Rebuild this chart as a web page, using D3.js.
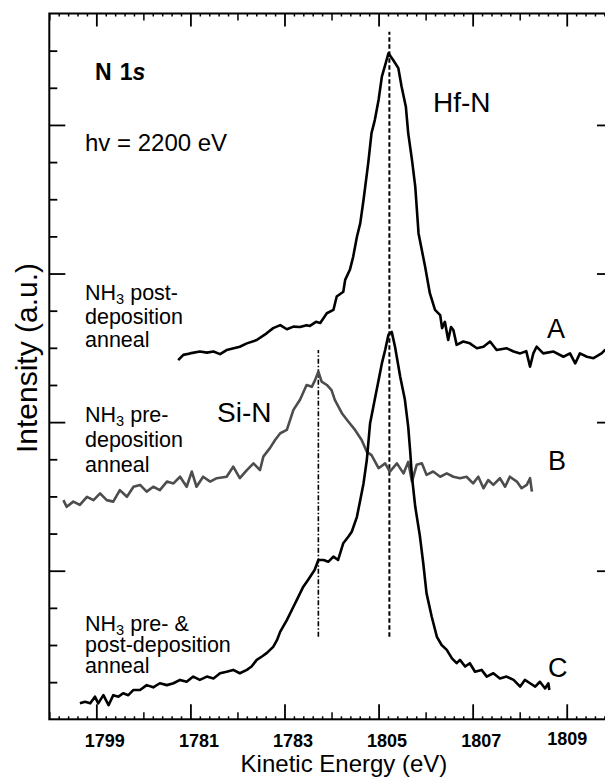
<!DOCTYPE html>
<html><head><meta charset="utf-8">
<script src="https://cdn.jsdelivr.net/npm/d3@7"></script>
<style>
body{margin:0;background:#fff}
svg{display:block}
text{font-family:"Liberation Sans",Arial,Helvetica,sans-serif;fill:#000}
</style>
</head><body>
<svg id="chart" width="605" height="778"></svg>
<script>
// ---------- data (kinetic energy in eV, intensity in a.u.) ----------
const energyA = [1800.74,1800.85,1800.99,1801.20,1801.35,1801.49,1801.63,1801.77,1802.05,1802.20,1802.41,1802.62,1802.76,1802.91,1803.05,1803.19,1803.33,1803.47,1803.54,1803.67,1803.76,1803.90,1804.04,1804.11,1804.25,1804.29,1804.39,1804.46,1804.54,1804.61,1804.68,1804.78,1804.85,1804.92,1805.00,1805.07,1805.14,1805.21,1805.31,1805.42,1805.49,1805.58,1805.63,1805.71,1805.78,1805.85,1805.99,1806.09,1806.20,1806.31,1806.35,1806.41,1806.48,1806.54,1806.59,1806.66,1806.80,1806.94,1807.09,1807.23,1807.37,1807.51,1807.72,1807.87,1808.01,1808.14,1808.22,1808.29,1808.36,1808.50,1808.72,1808.93,1809.07,1809.18,1809.28,1809.43,1809.57,1809.74,1809.81,1809.92];
const intensityA = [9.67,9.81,9.85,9.90,9.87,9.90,9.83,9.94,10.03,10.12,10.21,10.39,10.53,10.61,10.50,10.57,10.56,10.61,10.59,10.70,10.67,10.93,11.02,11.38,11.51,11.83,12.10,12.45,12.99,13.35,13.98,14.97,15.78,16.13,16.67,17.30,17.61,17.93,17.75,17.53,17.03,16.49,15.78,15.06,14.34,13.08,12.18,11.47,11.02,10.88,10.53,10.70,10.21,10.56,10.48,10.08,10.17,10.12,9.99,10.03,10.17,9.94,9.99,9.90,9.85,9.91,9.49,9.85,10.03,9.85,9.90,9.76,9.85,9.58,9.85,9.76,9.72,9.85,9.94,9.89];

const energyB = [1798.30,1798.37,1798.51,1798.65,1798.80,1798.94,1799.08,1799.22,1799.36,1799.50,1799.65,1799.79,1799.93,1800.07,1800.21,1800.35,1800.50,1800.64,1800.78,1800.92,1801.03,1801.13,1801.27,1801.42,1801.56,1801.77,1801.91,1802.05,1802.20,1802.34,1802.48,1802.55,1802.69,1802.80,1802.91,1803.05,1803.19,1803.33,1803.47,1803.58,1803.65,1803.72,1803.79,1803.90,1804.00,1804.07,1804.22,1804.36,1804.50,1804.64,1804.75,1804.85,1805.00,1805.14,1805.24,1805.39,1805.53,1805.63,1805.71,1805.81,1805.92,1806.02,1806.16,1806.31,1806.45,1806.59,1806.73,1806.87,1807.01,1807.12,1807.23,1807.33,1807.44,1807.58,1807.69,1807.79,1807.94,1808.04,1808.15,1808.22,1808.26];
const intensityB = [5.90,5.72,5.86,5.77,5.99,5.90,6.08,5.90,5.86,6.17,5.99,6.26,6.31,6.13,6.26,6.17,6.40,6.35,6.53,6.26,6.67,6.26,6.53,6.40,6.49,6.53,6.80,6.49,6.71,6.89,6.71,7.07,7.30,7.52,7.70,7.79,8.33,8.60,9.00,8.95,9.13,9.36,9.09,9.00,8.86,8.60,8.24,8.01,7.79,7.52,7.20,7.11,6.76,6.89,6.67,6.89,6.62,6.93,6.40,6.85,6.89,6.58,6.67,6.53,6.62,6.53,6.49,6.53,6.35,6.53,6.22,6.44,6.31,6.49,6.26,6.53,6.40,6.22,6.31,6.49,6.13];

const energyC = [1798.65,1798.76,1798.87,1798.97,1799.04,1799.15,1799.26,1799.36,1799.47,1799.57,1799.68,1799.79,1799.93,1800.07,1800.21,1800.35,1800.50,1800.64,1800.78,1800.92,1801.06,1801.20,1801.35,1801.49,1801.63,1801.77,1801.91,1802.05,1802.20,1802.30,1802.41,1802.52,1802.62,1802.76,1802.84,1802.91,1803.05,1803.19,1803.26,1803.40,1803.50,1803.64,1803.72,1803.83,1803.93,1804.04,1804.14,1804.25,1804.36,1804.43,1804.54,1804.61,1804.68,1804.75,1804.82,1804.89,1805.00,1805.07,1805.14,1805.21,1805.28,1805.35,1805.46,1805.56,1805.63,1805.67,1805.71,1805.78,1805.88,1805.95,1806.02,1806.13,1806.24,1806.34,1806.45,1806.56,1806.66,1806.73,1806.84,1806.94,1807.05,1807.19,1807.30,1807.44,1807.58,1807.72,1807.87,1808.01,1808.11,1808.22,1808.33,1808.43,1808.54,1808.61,1808.63];
const intensityC = [0.43,0.47,0.43,0.61,0.43,0.65,0.38,0.65,0.61,0.70,0.65,0.79,0.79,0.92,0.86,0.97,0.92,0.97,1.06,1.01,1.15,1.06,1.15,1.10,1.24,1.28,1.33,1.24,1.33,1.42,1.60,1.69,1.78,1.95,2.13,2.36,2.67,3.03,3.21,3.57,3.75,4.02,4.29,4.29,4.24,4.38,4.29,4.74,4.92,5.05,5.45,5.90,6.35,6.98,7.97,8.42,9.13,9.58,9.94,10.35,10.43,10.03,9.22,8.60,7.88,7.25,6.53,5.72,4.92,4.20,3.39,2.76,2.22,2.00,1.87,1.64,1.51,1.60,1.42,1.51,1.28,1.33,1.15,1.24,1.10,1.15,1.06,0.88,1.06,0.97,0.88,1.01,0.83,0.97,0.79];

// reference lines: [energy, intensity from, intensity to]
const hfnLine = [1805.23, 2.22, 18.51];
const sinLine = [1803.72, 2.22, 9.94];

const xTickValues = [1799, 1801, 1803, 1805, 1807, 1809];
const xTickLabels = ["1799", "1781", "1783", "1805", "1807", "1809"];
const yLongTicks = [4, 8, 12, 16];

// ---------- drawing ----------
const svg = d3.select("#chart");
const L = 49.3, R = 610, T = 13.5, B = 719.3;
const x = d3.scaleLinear().domain([1798.0, 1809.92]).range([L, R]);
const y = d3.scaleLinear().domain([0, 19]).range([B, T]);

const near = (v, t) => Math.abs(v - t) < 1e-6;
const allX = d3.range(0, 60).map(i => +(1798 + i * 0.2).toFixed(1));
const majorX = allX.filter(v => xTickValues.some(t => near(v, t)));
const mediumX = allX.filter(v => near(v, Math.round(v)) && !majorX.includes(v));
const minorX = allX.filter(v => !near(v, Math.round(v)));

function styleAxis(g, sw) {
  g.select(".domain").remove();
  g.selectAll(".tick line").attr("stroke", "#000").attr("stroke-width", sw);
}

// bottom axis
const gB = svg.append("g").attr("transform", `translate(0,${B})`);
gB.append("g").call(d3.axisBottom(x).tickValues(minorX).tickSize(-3).tickFormat("")).call(styleAxis, 1.5);
gB.append("g").call(d3.axisBottom(x).tickValues(mediumX).tickSize(-7).tickFormat("")).call(styleAxis, 1.5);
const gBm = gB.append("g").call(d3.axisBottom(x).tickValues(xTickValues).tickSize(-15)
  .tickFormat((d, i) => xTickLabels[i])).call(styleAxis, 1.8);
gBm.selectAll(".tick text")
  .attr("y", (d, i) => i === xTickLabels.length - 1 ? 26 : 28)
  .attr("dy", 0)
  .attr("dx", (d, i) => i === xTickLabels.length - 1 ? 0 : 8)
  .style("font-family", '"Liberation Sans",Arial,sans-serif')
  .style("font-size", "18px").style("font-weight", "bold").attr("fill", "#000");

// top axis
const gT = svg.append("g").attr("transform", `translate(0,${T})`);
gT.append("g").call(d3.axisTop(x).tickValues(minorX).tickSize(-3).tickFormat("")).call(styleAxis, 1.5);
gT.append("g").call(d3.axisTop(x).tickValues(mediumX).tickSize(-7).tickFormat("")).call(styleAxis, 1.5);
gT.append("g").call(d3.axisTop(x).tickValues(xTickValues).tickSize(-13).tickFormat("")).call(styleAxis, 1.8);

// left axis
const yAll = d3.range(1, 19);
const gL = svg.append("g").attr("transform", `translate(${L},0)`);
gL.append("g").call(d3.axisLeft(y).tickValues(yAll.filter(v => !yLongTicks.includes(v))).tickSize(-8).tickFormat("")).call(styleAxis, 1.8);
gL.append("g").call(d3.axisLeft(y).tickValues(yLongTicks).tickSize(-16).tickFormat("")).call(styleAxis, 1.8);

// right axis
const gR = svg.append("g").attr("transform", `translate(${R},0)`);
gR.append("g").call(d3.axisRight(y).tickValues(yLongTicks).tickSize(-13).tickFormat("")).call(styleAxis, 1.8);

// frame
svg.append("rect").attr("x", L).attr("y", T).attr("width", R - L).attr("height", B - T)
  .attr("fill", "none").attr("stroke", "#000").attr("stroke-width", 2);

// reference lines
svg.append("line").attr("x1", x(hfnLine[0])).attr("x2", x(hfnLine[0]))
  .attr("y1", y(hfnLine[1])).attr("y2", y(hfnLine[2]))
  .attr("stroke", "#000").attr("stroke-width", 2).attr("stroke-dasharray", "4.5,2.5");
svg.append("line").attr("x1", x(sinLine[0])).attr("x2", x(sinLine[0]))
  .attr("y1", y(sinLine[1])).attr("y2", y(sinLine[2]))
  .attr("stroke", "#000").attr("stroke-width", 1.6).attr("stroke-dasharray", "5,2,1.5,2");

// spectra
const line = d3.line().x(d => x(d[0])).y(d => y(d[1])).curve(d3.curveLinear);
svg.append("clipPath").attr("id", "clip").append("rect")
  .attr("x", L).attr("y", T).attr("width", R - L).attr("height", B - T);
function spectrum(E, I, color, w) {
  const pts = E.map((e, i) => [e, I[i]]);
  svg.append("path").datum(pts).attr("d", line).attr("fill", "none")
    .attr("stroke", color).attr("stroke-width", w).attr("stroke-linejoin", "round")
    .attr("clip-path", "url(#clip)");
}
spectrum(energyB, intensityB, "#4d4d4d", 2.6);
spectrum(energyA, intensityA, "#000", 2.6);
spectrum(energyC, intensityC, "#000", 2.6);

// texts
function txt(xp, yp, s, size, weight) {
  return svg.append("text").attr("x", xp).attr("y", yp).style("font-size", size + "px")
    .style("font-weight", weight || "normal").text(s);
}
const n1s = svg.append("text").attr("x", 95).attr("y", 80).style("font-size", "23px").style("font-weight", "bold");
n1s.append("tspan").text("N");
n1s.append("tspan").attr("dx", 8).text("1");
n1s.append("tspan").style("font-style", "italic").text("s");

txt(85, 151, "hv = 2200 eV", 24);
txt(433, 111.7, "Hf-N", 28);
txt(217, 421.7, "Si-N", 28);
txt(547, 338.3, "A", 27);
txt(548, 470, "B", 27);
txt(548, 676.7, "C", 27);

function nh3(xp, yp, rest, size) {
  const t = svg.append("text").attr("x", xp).attr("y", yp).style("font-size", size + "px");
  t.append("tspan").text("NH");
  t.append("tspan").attr("dy", 4).style("font-size", (size * 0.68) + "px").text("3");
  t.append("tspan").attr("dy", -4).text(" " + rest);
}
nh3(85, 300, "post-", 21.5); txt(85, 323.5, "deposition", 21.5); txt(85, 347, "anneal", 21.5);
nh3(85, 421.7, "pre-", 21.5); txt(85, 446.7, "deposition", 21.5); txt(85, 471.7, "anneal", 21.5);
nh3(85, 631, "pre- &", 21.5); txt(85, 652, "post-deposition", 21.5); txt(85, 673, "anneal", 21.5);

// axis titles
svg.append("text").attr("x", 344).attr("y", 771.5).attr("text-anchor", "middle")
  .style("font-size", "24px").text("Kinetic Energy (eV)");
svg.append("text").attr("transform", "translate(36.5,358) rotate(-90)").attr("text-anchor", "middle")
  .style("font-size", "30px").text("Intensity (a.u.)");
</script>
</body></html>
